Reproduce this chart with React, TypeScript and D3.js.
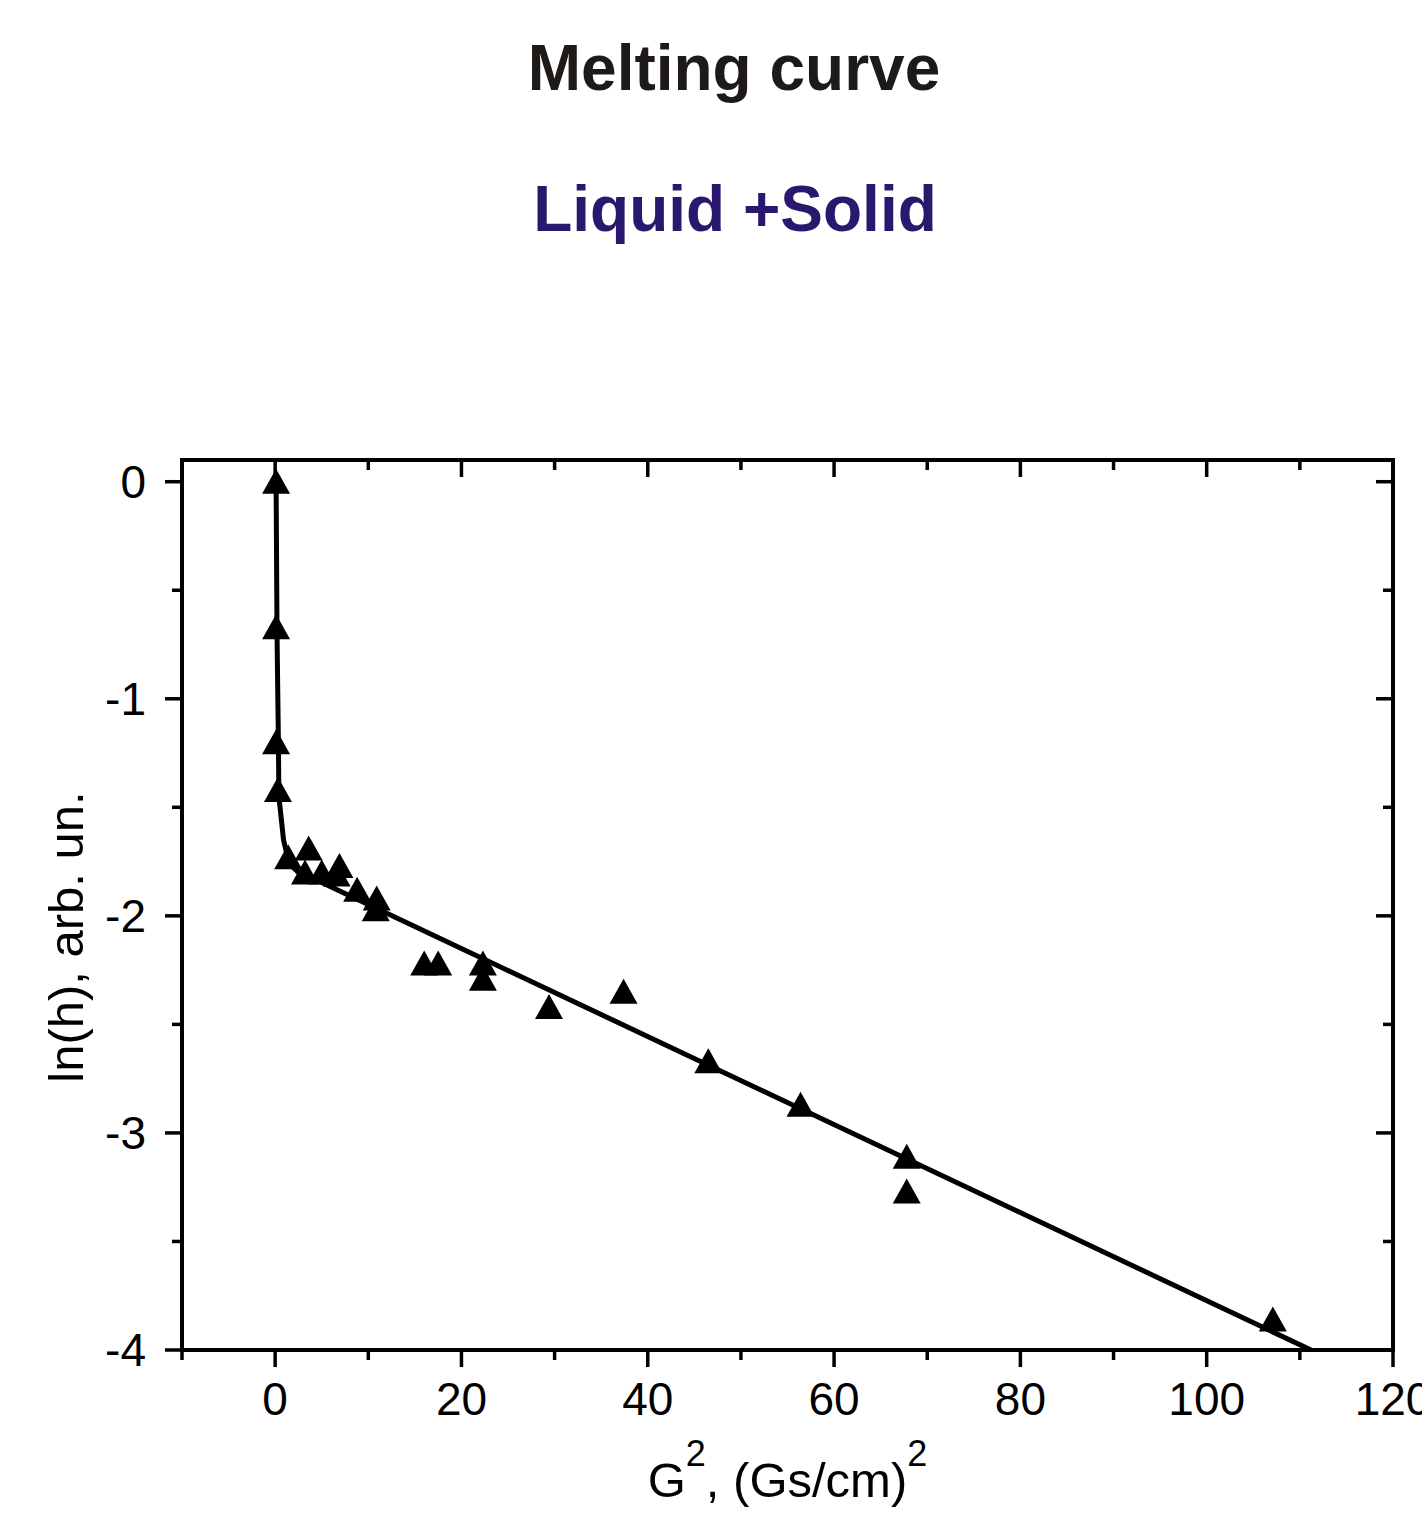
import React from "react";
import * as d3 from "d3";

// measured points: G^2 and ln(h)
const g2Values = [0.1, 0.1, 0.1, 0.3, 1.4, 3.6, 3.2, 5.0, 6.9, 6.6, 8.8, 10.9, 10.8, 16.0, 17.5, 22.3, 22.3, 29.4, 37.4, 46.5, 56.4, 67.8, 67.8, 107.1];
const lnhValues = [0.0, -0.67, -1.2, -1.42, -1.73, -1.69, -1.8, -1.8, -1.77, -1.81, -1.88, -1.92, -1.97, -2.22, -2.22, -2.22, -2.29, -2.42, -2.35, -2.67, -2.87, -3.11, -3.27, -3.86];

// fitted curve
const fitG2 = [0.1, 0.2, 0.35, 0.4, 0.9, 1.5, 2.5, 4.2, 111.2];
const fitLnh = [0.0, -0.7, -1.2, -1.45, -1.65, -1.76, -1.8, -1.83, -4.0];

const xMajorTicks = [0, 20, 40, 60, 80, 100, 120];
const xMinorTicks = [-10, 10, 30, 50, 70, 90, 110];
const yMajorTicks = [0, -1, -2, -3, -4];
const yMinorTicks = [-0.5, -1.5, -2.5, -3.5];

const title = "Melting curve";
const subtitle = "Liquid +Solid";

const W = 1422;
const H = 1515;
const margins = { top: 460, right: 29, bottom: 165, left: 182 };
const font = "'Liberation Sans', Arial, sans-serif";

const App = () => {
  const xScale = d3.scaleLinear().domain([-10, 120]).range([margins.left, W - margins.right]);
  const yScale = d3.scaleLinear().domain([-4, 0.1]).range([H - margins.bottom, margins.top]);

  const x0 = xScale.range()[0];
  const x1 = xScale.range()[1];
  const y0 = yScale.range()[0];
  const y1 = yScale.range()[1];

  const fitLine = d3
    .line<number>()
    .x((d, i) => xScale(fitG2[i]))
    .y((d) => yScale(d));

  const major = 17;
  const minor = 10;
  const tw = 3.5;

  const tri = (cx: number, cy: number) =>
    `M${cx},${cy - 13}L${cx + 14},${cy + 12}L${cx - 14},${cy + 12}Z`;

  return (
    <div>
      <style>{`body{margin:0}`}</style>
      <svg width={W} height={H} style={{ display: "block", background: "#fff" }}>
        <text x={734} y={90} textAnchor="middle" fontFamily={font} fontWeight="bold" fontSize={64} fill="#1e1a18">
          {title}
        </text>
        <text x={735} y={231} textAnchor="middle" fontFamily={font} fontWeight="bold" fontSize={64} fill="#2a186e">
          {subtitle}
        </text>

        {/* frame */}
        <rect x={x0} y={y1} width={x1 - x0} height={y0 - y1} fill="none" stroke="#000" strokeWidth={4} />

        {/* bottom & top ticks */}
        {xMajorTicks.map((t) => (
          <g key={"xM" + t}>
            <line x1={xScale(t)} x2={xScale(t)} y1={y0} y2={y0 + major} stroke="#000" strokeWidth={tw} />
            <line x1={xScale(t)} x2={xScale(t)} y1={y1} y2={y1 + major} stroke="#000" strokeWidth={tw} />
            <text x={xScale(t)} y={y0 + 65} textAnchor="middle" fontFamily={font} fontSize={46} fill="#000">
              {t}
            </text>
          </g>
        ))}
        {xMinorTicks.map((t) => (
          <g key={"xm" + t}>
            <line x1={xScale(t)} x2={xScale(t)} y1={y0} y2={y0 + minor} stroke="#000" strokeWidth={tw} />
            <line x1={xScale(t)} x2={xScale(t)} y1={y1} y2={y1 + minor} stroke="#000" strokeWidth={tw} />
          </g>
        ))}

        {/* left & right ticks */}
        {yMajorTicks.map((t) => (
          <g key={"yM" + t}>
            <line x1={x0 - major} x2={x0} y1={yScale(t)} y2={yScale(t)} stroke="#000" strokeWidth={tw} />
            <line x1={x1 - major} x2={x1} y1={yScale(t)} y2={yScale(t)} stroke="#000" strokeWidth={tw} />
            <text x={x0 - 36} y={yScale(t) + 16} textAnchor="end" fontFamily={font} fontSize={46} fill="#000">
              {t}
            </text>
          </g>
        ))}
        {yMinorTicks.map((t) => (
          <g key={"ym" + t}>
            <line x1={x0 - minor} x2={x0} y1={yScale(t)} y2={yScale(t)} stroke="#000" strokeWidth={tw} />
            <line x1={x1 - minor} x2={x1} y1={yScale(t)} y2={yScale(t)} stroke="#000" strokeWidth={tw} />
          </g>
        ))}

        {/* axis titles */}
        <text x={(x0 + x1) / 2} y={1497} textAnchor="middle" fontFamily={font} fontSize={49} fill="#000">
          G<tspan dy={-31} fontSize={36}>2</tspan>
          <tspan dy={31}>, (Gs/cm)</tspan>
          <tspan dy={-31} fontSize={36}>2</tspan>
        </text>
        <text
          transform={`translate(83, 937) rotate(-90)`}
          textAnchor="middle"
          fontFamily={font}
          fontSize={49}
          fill="#000"
        >
          ln(h), arb. un.
        </text>

        {/* fit */}
        <path d={fitLine(fitLnh) || ""} fill="none" stroke="#000" strokeWidth={5} strokeLinejoin="round" />

        {/* points */}
        {g2Values.map((g, i) => (
          <path key={i} d={tri(xScale(g), yScale(lnhValues[i]))} fill="#000" />
        ))}
      </svg>
    </div>
  );
};

export default App;
